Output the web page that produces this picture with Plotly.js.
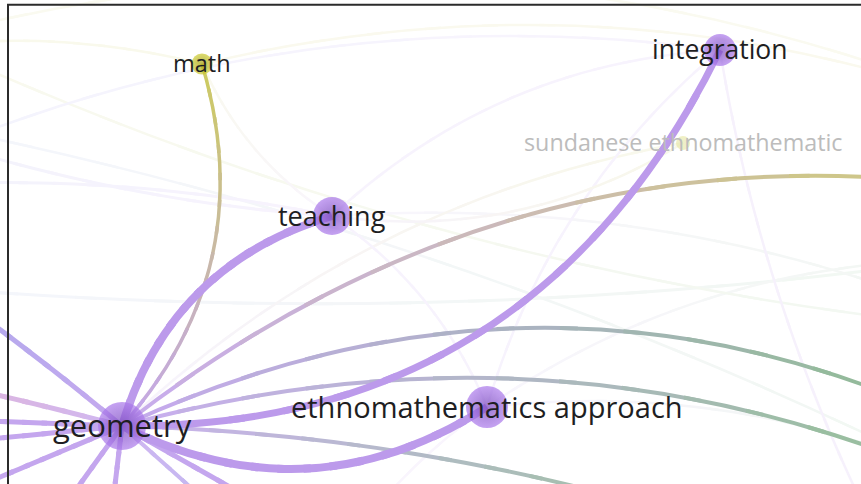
<!DOCTYPE html>
<html><head><meta charset="utf-8">
<script src="https://cdn.plot.ly/plotly-3.0.1.min.js"></script>
<style>html,body{margin:0;padding:0;background:#fff}#chart{width:861px;height:484px}</style>
</head><body><div id="chart"></div>
<script>
// ---- Nodes (visible keywords first, then unlabeled network neighbours that sit outside the crop) ----
const nodeNames  = ["geometry","ethnomathematics approach","teaching","integration","math","sundanese ethnomathematic",
                    "o1","o2","o3","o4","o5","o6","o7","o8","o9","o10","o11","o12","o13",
                    "o14","o15","o16","o17","o18","o19","o20","o21","o22","o23","o24"];
const nodeX      = [122, 487, 332, 720, 202, 683,
                    1010, 1000, 1100, -150, -150, -150, -150, -100, -18, 99, 339, 465, 760,
                    -150, -150, -150, 1000, 870, 600, 950, 300, -120, 1000, -150];
const nodeY      = [426, 407, 216, 50, 64, 143,
                    450, 500, 210, 225, 363, 416, 453, 519, 620, 620, 620, 620, 540,
                    110, 190, 280, 110, 520, -60, 260, 620, 20, 330, 60];
const nodeSize   = [48, 42, 38, 32, 21, 14];
const nodeCluster= ["P","P","P","P","Y","Y",
                    "G","G","Y","B","R","P","P","P","P","P","B","P","G",
                    "B","B","B","Y","P","P","G","P","Y","G","Y"];
const nodeFaded  = [false,false,false,false,false,true];
const labelSize  = [31, 29, 27, 26.5, 23.5, 23.3];

// ---- Links: source, target, width, strength, bend near source, bend near target ----
const linkSource = ["sundanese ethnomathematic","math","math","o14","o15","o16","teaching","integration","integration","integration",
                    "ethnomathematics approach","ethnomathematics approach","ethnomathematics approach","sundanese ethnomathematic","o24","o22","teaching","ethnomathematics approach","o14","math",
                    "geometry","geometry","geometry","geometry","geometry","geometry","geometry","geometry","geometry","geometry",
                    "geometry","geometry","geometry","math","geometry","integration","geometry"];
const linkTarget = ["geometry","o24","o17","teaching","teaching","o20","integration","o18","o15","ethnomathematics approach",
                    "teaching","o20","o21","teaching","o17","o23","o23","o2","o2","teaching",
                    "o4","o5","o6","o7","o8","o9","o10","o11","o12","o13",
                    "o1","o2","o3","geometry","ethnomathematics approach","geometry","teaching"];
const linkWidth  = [2.5,2.5,2.5,3,3,3,2.5,2.5,2.5,2.5,
                    2.5,2.5,2.5,2.5,2.5,2.5,2.5,2.5,2.5,2.5,
                    5,5,5,5,5,5,5,4,5,4,
                    4,4,4,3.5,8,7,8];
const linkStrength=[0.1,0.09,0.08,0.1,0.1,0.08,0.1,0.12,0.09,0.1,
                    0.1,0.08,0.08,0.1,0.07,0.08,0.08,0.09,0.08,0.08,
                    0.72,0.6,0.75,0.75,0.75,0.75,0.75,0.6,0.75,0.65,
                    0.72,0.68,0.7,0.75,0.85,0.85,0.85];
const linkBend1  = [0.1,0.08,-0.1,0.05,-0.05,0.04,-0.12,0.05,0.1,0.1,
                    0.1,-0.1,0.08,-0.12,-0.12,0.06,-0.08,-0.1,-0.05,0.1,
                    0.02,0.01,0.0,0.0,0.0,0.0,0.0,0.0,0.0,-0.05,
                    -0.165,-0.123,-0.16,-0.185,0.19,-0.206,-0.18];
const linkBend2  = [0.1,0.08,-0.1,0.05,-0.05,0.04,-0.12,0.05,0.1,0.1,
                    0.1,-0.1,0.08,-0.12,-0.12,0.06,-0.08,-0.1,-0.05,0.1,
                    0.02,0.01,0.0,0.0,0.0,0.0,0.0,0.0,0.0,-0.05,
                    -0.165,-0.123,-0.16,-0.185,0.19,-0.214,-0.18];

// ---- Styling ----
const clusterRGB = {P:[176,136,232], Y:[188,186,40], G:[92,165,92], B:[128,134,228], R:[214,128,176]};
const nodeCenter = {P:"rgb(172,122,236)", Y:"rgb(205,203,50)"};
const nodeEdge   = {P:"rgb(116,66,186)",  Y:"rgb(160,158,10)"};

const idx = {}; nodeNames.forEach((n,i)=>idx[n]=i);
function mixWhite(c,a){return "rgb("+c.map(v=>Math.round(v*a+255*(1-a))).join(",")+")";}
function lerp(a,b,t){return a.map((v,i)=>v+(b[i]-v)*t);}

const shapes = [];
const order = linkSource.map((_,i)=>i).sort((a,b)=>linkStrength[a]-linkStrength[b]);
const NSEG = 14;
order.forEach(e=>{
  const s = idx[linkSource[e]], t = idx[linkTarget[e]];
  const x0=nodeX[s], y0=nodeY[s], x3=nodeX[t], y3=nodeY[t];
  const dx=x3-x0, dy=y3-y0, L=Math.hypot(dx,dy), nx=-dy/L, ny=dx/L;
  const x1=x0+dx/3+linkBend1[e]*L*nx, y1=y0+dy/3+linkBend1[e]*L*ny;
  const x2=x0+2*dx/3+linkBend2[e]*L*nx, y2=y0+2*dy/3+linkBend2[e]*L*ny;
  const B=(u)=>{const a=(1-u)**3,b=3*(1-u)**2*u,c=3*(1-u)*u*u,d=u**3;return [a*x0+b*x1+c*x2+d*x3,a*y0+b*y1+c*y2+d*y3];};
  const D=(u)=>{const a=3*(1-u)**2,b=6*(1-u)*u,c=3*u*u;return [a*(x1-x0)+b*(x2-x1)+c*(x3-x2),a*(y1-y0)+b*(y2-y1)+c*(y3-y2)];};
  const cs=clusterRGB[nodeCluster[s]], ct=clusterRGB[nodeCluster[t]];
  for(let k=0;k<NSEG;k++){
    const ta=Math.max(0,k/NSEG-0.01), tb=Math.min(1,(k+1)/NSEG+0.01), h=(tb-ta)/3;
    const p0=B(ta), p3=B(tb), d0=D(ta), d3=D(tb);
    const p1=[p0[0]+h*d0[0],p0[1]+h*d0[1]], p2=[p3[0]-h*d3[0],p3[1]-h*d3[1]];
    const col=mixWhite(lerp(cs,ct,(k+0.5)/NSEG), linkStrength[e]);
    shapes.push({type:"path",xref:"x",yref:"y",layer:"below",
      path:`M${p0[0].toFixed(2)},${p0[1].toFixed(2)} C${p1[0].toFixed(2)},${p1[1].toFixed(2)} ${p2[0].toFixed(2)},${p2[1].toFixed(2)} ${p3[0].toFixed(2)},${p3[1].toFixed(2)}`,
      line:{color:col,width:linkWidth[e]}});
  }
});
// frame of the screenshot
shapes.push({type:"path",xref:"paper",yref:"paper",layer:"above",path:"M0.0093,0 L0.0093,0.99 L1,0.99",line:{color:"#2b2b2b",width:2}});

const vis = nodeSize.map((_,i)=>i);
const trace = {
  type:"scatter", mode:"markers", cliponaxis:false,
  x: vis.map(i=>nodeX[i]), y: vis.map(i=>nodeY[i]),
  text: vis.map(i=>nodeNames[i]),
  marker:{size: nodeSize,
          color: vis.map(i=>nodeFaded[i]?"rgba(228,228,150,0.8)":nodeCenter[nodeCluster[i]]),
          gradient:{type:"radial", color: vis.map(i=>nodeFaded[i]?"rgba(225,225,160,0.8)":nodeEdge[nodeCluster[i]])},
          line:{width:0}},
  hoverinfo:"text"
};
const annotations = vis.map(i=>({
  x:nodeX[i], y:nodeY[i], xref:"x", yref:"y", text:nodeNames[i], showarrow:false,
  xanchor:"center", yanchor:"middle", yshift:1,
  font:{family:"Open Sans, sans-serif", size:labelSize[i], color: nodeFaded[i]?"rgb(188,188,188)":"rgb(30,30,34)"}
}));
const layout = {
  width:861, height:484, margin:{l:0,r:0,t:0,b:0},
  paper_bgcolor:"#ffffff", plot_bgcolor:"#ffffff",
  xaxis:{range:[0,861], visible:false, fixedrange:true},
  yaxis:{range:[484,0], visible:false, fixedrange:true},
  showlegend:false, shapes: shapes, annotations: annotations
};
Plotly.newPlot("chart",[trace],layout,{displayModeBar:false,staticPlot:true});
</script></body></html>
